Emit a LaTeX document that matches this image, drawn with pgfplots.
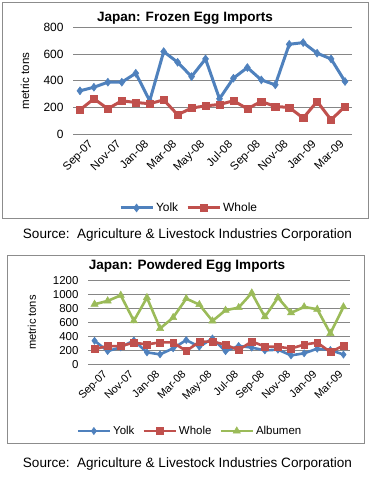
\documentclass[border=0pt]{standalone}
\usepackage{pgfplots}
\pgfplotsset{compat=1.18}
\usepackage{fontspec}
\setmainfont{Liberation Sans}
\definecolor{cyolk}{HTML}{4F81BD}
\definecolor{cwhole}{HTML}{C0504D}
\definecolor{calb}{HTML}{9BBB59}
\definecolor{cgrid}{HTML}{868686}
\definecolor{cborder}{HTML}{8C8C8C}

\pgfplotsset{
 egg/.style={
  scale only axis, xmin=-0.5, xmax=19.5, ymin=0,
  axis line style={draw=none}, major tick length=0pt,
  ymajorgrids, grid style={cgrid, line width=0.9bp},
  xtick={0,2,...,18},
  xticklabels={Sep-07,Nov-07,Jan-08,Mar-08,May-08,Jul-08,Sep-08,Nov-08,Jan-09,Mar-09},
  /pgf/number format/assume math mode=true,
  /pgf/number format/1000 sep={},
  xticklabel style={rotate=45, anchor=north east, inner sep=1bp, xshift=3bp, yshift=-8bp},
  yticklabel style={xshift=-6bp},
  legend style={draw=none, fill=none, legend columns=-1,
    /tikz/every even column/.append style={column sep=6bp}},
  legend image code/.code={\draw[mark repeat=2,mark phase=2] plot coordinates {(0bp,0bp)(16bp,0bp)(32bp,0bp)};},
 },
 yolk/.style={cyolk, line width=3bp, mark=diamond*, mark size=4bp, mark options={solid, fill=cyolk, line width=0.5bp}},
 whole/.style={cwhole, line width=3bp, mark=square*, mark size=3.6bp, mark options={solid, fill=cwhole, line width=0.5bp}},
 alb/.style={calb, line width=3bp, mark=triangle*, mark size=4.5bp, mark options={solid, fill=calb, line width=0.5bp}},
}

\begin{document}
\begin{tikzpicture}
\path[use as bounding box] (0bp,0bp) rectangle (371bp,-477bp);
\coordinate (A1) at (73bp,-134bp);
\coordinate (A2) at (88bp,-364.3bp);
% borders
\draw[cborder, line width=1bp] (2bp,-2bp) rectangle (368bp,-218bp);
\draw[cborder, line width=1bp] (7bp,-255bp) rectangle (364bp,-443bp);
% titles
\node[font=\fontsize{13.6}{14}\selectfont\bfseries] at (185bp,-18bp) {Japan: Frozen Egg Imports};
\node[font=\fontsize{13.6}{14}\selectfont\bfseries] at (187bp,-266bp) {Japan: Powdered Egg Imports};
% sources
\node[font=\fontsize{13.6}{14}\selectfont] at (187.5bp,-235bp) {Source:\ \ Agriculture \& Livestock Industries Corporation};
\node[font=\fontsize{13.6}{14}\selectfont] at (187.5bp,-464bp) {Source:\ \ Agriculture \& Livestock Industries Corporation};

\begin{axis}[egg, at={(A1)}, anchor=south west, width=279bp, height=106.3bp,
  ymax=800, ytick={0,200,...,800},
  xticklabel style={font=\fontsize{11.5}{12}\selectfont},
  yticklabel style={font=\fontsize{12}{12}\selectfont},
  ylabel={metric tons}, ylabel style={at={(axis description cs:-0.172,0.5)}, anchor=center, font=\fontsize{11.6}{12}\selectfont},
  legend style={at={(rel axis cs:0.416,-0.696)}, anchor=center, font=\fontsize{12}{12}\selectfont}]
\addplot[yolk] coordinates {(0,325)(1,352)(2,390)(3,390)(4,457)(5,250)(6,620)(7,540)(8,432)(9,565)(10,265)(11,420)(12,500)(13,407)(14,370)(15,675)(16,688)(17,608)(18,565)(19,395)};
\addplot[whole] coordinates {(0,182)(1,265)(2,190)(3,250)(4,237)(5,228)(6,257)(7,145)(8,195)(9,212)(10,222)(11,250)(12,190)(13,245)(14,207)(15,200)(16,120)(17,245)(18,107)(19,207)};
\legend{Yolk,Whole}
\end{axis}

\begin{axis}[egg, at={(A2)}, anchor=south west, width=262bp, height=83.6bp,
  ymax=1200, ytick={0,200,...,1200},
  xticklabel style={font=\fontsize{11}{12}\selectfont},
  yticklabel style={font=\fontsize{11.5}{12}\selectfont},
  ylabel={metric tons}, ylabel style={at={(axis description cs:-0.214,0.5)}, anchor=center, font=\fontsize{11.2}{12}\selectfont},
  legend style={at={(rel axis cs:0.389,-0.798)}, anchor=center, font=\fontsize{11.5}{12}\selectfont}]
\addplot[yolk, line width=2.6bp, mark size=3.6bp] coordinates {(0,338)(1,190)(2,243)(3,343)(4,171)(5,143)(6,229)(7,348)(8,252)(9,371)(10,188)(11,264)(12,240)(13,200)(14,210)(15,128)(16,158)(17,224)(18,205)(19,140)};
\addplot[whole, line width=2.6bp, mark size=3.4bp] coordinates {(0,219)(1,262)(2,262)(3,310)(4,286)(5,314)(6,314)(7,190)(8,324)(9,328)(10,280)(11,205)(12,328)(13,255)(14,252)(15,226)(16,283)(17,312)(18,176)(19,269)};
\addplot[alb, line width=2.6bp, mark size=4.2bp] coordinates {(0,862)(1,910)(2,990)(3,624)(4,957)(5,514)(6,671)(7,943)(8,857)(9,622)(10,776)(11,814)(12,1024)(13,681)(14,957)(15,738)(16,824)(17,790)(18,443)(19,824)};
\legend{Yolk,Whole,Albumen}
\end{axis}
\end{tikzpicture}
\end{document}
